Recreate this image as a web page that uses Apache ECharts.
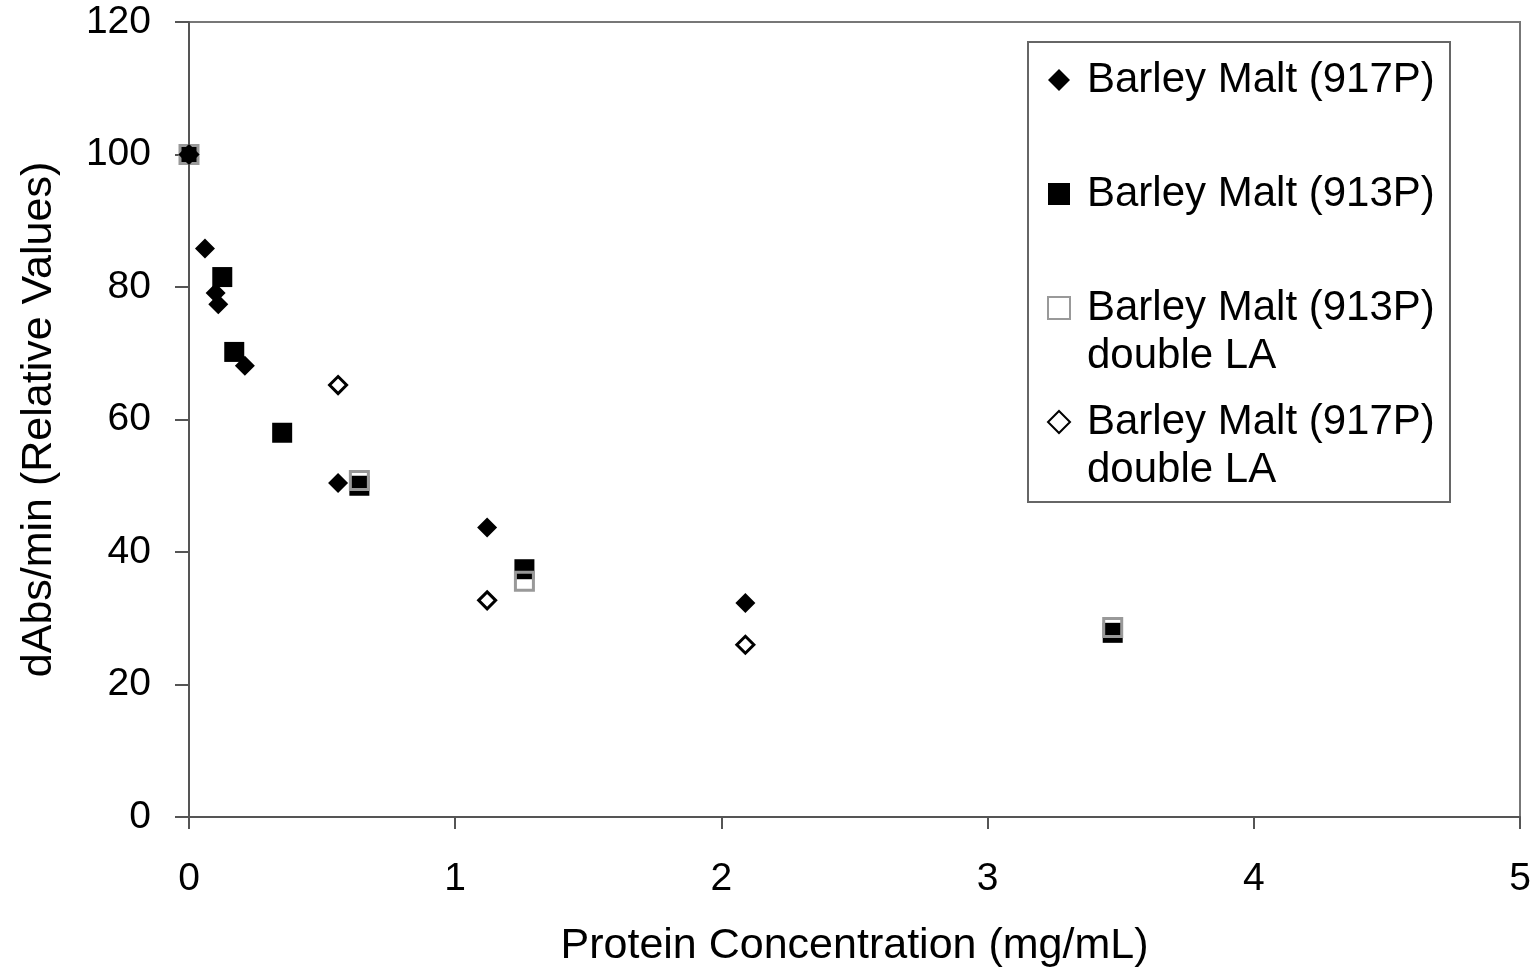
<!DOCTYPE html>
<html lang="en">
<head>
	<meta charset="UTF-8">
	<title>dAbs/min vs Protein Concentration</title>
	<script src="https://cdn.jsdelivr.net/npm/echarts@6/dist/echarts.min.js"></script>
	<style>
		html, body { margin: 0; padding: 0; background: #fff; }
		#main { width: 1536px; height: 972px; }
	</style>
</head>
<body>
	<div id="main"></div>
<script>
// values
var names = [
	'Barley Malt (917P)',
	'Barley Malt (913P)',
	'Barley Malt (913P) double LA',
	'Barley Malt (917P) double LA'
];
var conc917 = [0, 0.06, 0.10, 0.11, 0.21, 0.56, 1.12, 2.09];
var act917 = [100, 85.8, 79.1, 77.4, 68.1, 50.4, 43.7, 32.3];
var conc913 = [0, 0.125, 0.17, 0.35, 0.64, 1.26, 3.47];
var act913 = [100, 81.5, 70.2, 58.0, 50.0, 37.4, 27.8];
var conc913LA = [0, 0.64, 1.26, 3.47];
var act913LA = [100, 50.8, 35.6, 28.6];
var conc917LA = [0, 0.56, 1.12, 2.09];
var act917LA = [100, 65.2, 32.7, 26.0];

function pairs(xs, ys) {
	return xs.map(function (x, i) { return [x, ys[i]]; });
}

var font = 'Liberation Sans, Arial, sans-serif';
var axisColor = '#555';

var chart = echarts.init(document.getElementById('main'));

var option = {
	backgroundColor: '#fff',
	animation: false,
	grid: {
		left: 189, right: 16, top: 22, bottom: 155,
		outerBoundsMode: 'none',
		show: true,
		borderColor: '#777',
		borderWidth: 2
	},
	xAxis: {
		type: 'value',
		min: 0, max: 5, interval: 1,
		name: 'Protein Concentration (mg/mL)',
		nameLocation: 'middle',
		nameGap: 108,
		nameTextStyle: { fontFamily: font, fontSize: 43, color: '#000' },
		axisLine: { lineStyle: { color: axisColor, width: 2 } },
		axisTick: { show: true, inside: false, length: 12, lineStyle: { color: axisColor, width: 2 } },
		axisLabel: { margin: 43, fontFamily: font, fontSize: 39, color: '#000' },
		splitLine: { show: false }
	},
	yAxis: {
		type: 'value',
		min: 0, max: 120, interval: 20,
		name: 'dAbs/min (Relative Values)',
		nameLocation: 'middle',
		nameGap: 128,
		nameTextStyle: { fontFamily: font, fontSize: 43, color: '#000' },
		axisLine: { show: true, lineStyle: { color: axisColor, width: 2 } },
		axisTick: { show: true, inside: false, length: 14, lineStyle: { color: axisColor, width: 2 } },
		axisLabel: { margin: 38, fontFamily: font, fontSize: 39, color: '#000' },
		splitLine: { show: false }
	},
	legend: {
		orient: 'vertical',
		left: 1047,
		top: 8,
		padding: 0,
		itemGap: -30,
		itemWidth: 22,
		itemHeight: 22,
		selectedMode: false,
		z: 5,
		textStyle: { fontFamily: font, fontSize: 42, lineHeight: 48, color: '#000', padding: [0, 0, 0, 12] },
		// three lines per item so the icon sits on the first line of text
		formatter: function (name) {
			if (name.indexOf(' double') > 0) {
				return '\n' + name.replace(' double', '\ndouble');
			}
			return '\n' + name + '\n';
		},
		data: names
	},
	graphic: [{
		type: 'rect',
		z: 1,
		shape: { x: 1028, y: 42, width: 422, height: 460 },
		style: { fill: '#fff', stroke: '#666', lineWidth: 2 }
	}],
	series: [
		{
			name: names[0],
			type: 'scatter',
			symbol: 'diamond',
			symbolSize: 20,
			itemStyle: { color: '#000', opacity: 1 },
			data: pairs(conc917, act917)
		},
		{
			name: names[1],
			type: 'scatter',
			symbol: 'rect',
			symbolSize: 20,
			itemStyle: { color: '#000', opacity: 1 },
			data: pairs(conc913, act913)
		},
		{
			name: names[2],
			type: 'scatter',
			symbol: 'rect',
			symbolSize: 18,
			itemStyle: { color: 'rgba(0,0,0,0)', borderColor: '#999', borderWidth: 3, opacity: 1 },
			data: pairs(conc913LA, act913LA)
		},
		{
			name: names[3],
			type: 'scatter',
			symbol: 'diamond',
			symbolSize: 17,
			itemStyle: { color: 'rgba(0,0,0,0)', borderColor: '#000', borderWidth: 3, opacity: 1 },
			data: pairs(conc917LA, act917LA)
		}
	]
};

chart.setOption(option);
</script>
</body>
</html>
